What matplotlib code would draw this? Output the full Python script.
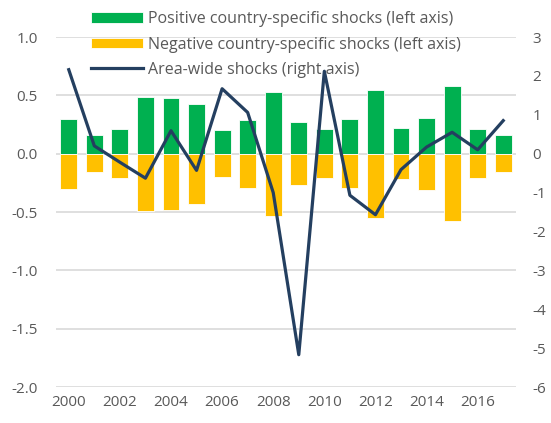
import numpy as np
import matplotlib
matplotlib.use("Agg")
import matplotlib.pyplot as plt

# ==========================================================
# DATOS
# ==========================================================

anios = list(range(2000, 2018))

positivos = [0.30, 0.16, 0.21, 0.49, 0.48, 0.43, 0.20, 0.29, 0.53, 0.27,
             0.21, 0.30, 0.55, 0.22, 0.31, 0.58, 0.21, 0.16]

negativos = [-0.30, -0.16, -0.21, -0.49, -0.48, -0.43, -0.20, -0.29, -0.53, -0.27,
             -0.21, -0.29, -0.55, -0.22, -0.31, -0.58, -0.21, -0.16]

area = [2.16, 0.20, -0.22, -0.63, 0.59, -0.43, 1.67, 1.06, -1.00, -5.17,
        2.12, -1.07, -1.57, -0.41, 0.17, 0.55, 0.10, 0.85]

etiquetas_x = [str(a) for a in range(2000, 2017, 2)]

# ==========================================================
# GRAFICA
# ==========================================================

plt.rcParams["font.family"] = ["Open Sans", "DejaVu Sans"]
plt.rcParams["axes.unicode_minus"] = False

fig = plt.figure(figsize=(5.51, 4.23), dpi=100)
ax = fig.add_axes([0.1016, 0.0851, 0.8349, 0.8274])
ax2 = ax.twinx()

x = np.arange(len(anios))

ax.bar(x, positivos, width=0.66, color="#00B050", edgecolor="white",
       linewidth=0.6, label="Positive country-specific shocks (left axis)", zorder=2)
ax.bar(x, negativos, width=0.66, color="#FFC000", edgecolor="white",
       linewidth=0.6, label="Negative country-specific shocks (left axis)", zorder=2)

ax2.plot(x, area, color="#243F60", linewidth=2.3,
         label="Area-wide shocks (right axis)", zorder=3)

ax.set_ylim(-2.0, 1.0)
ax2.set_ylim(-6, 3)
ax.set_xlim(-0.5, len(anios) - 0.5)

ax.set_yticks(np.arange(-2.0, 1.01, 0.5))
ax.set_yticklabels([f"{v:.1f}" for v in np.arange(-2.0, 1.01, 0.5)])
ax2.set_yticks(range(-6, 4))

ax.set_xticks(range(0, 17, 2))
ax.set_xticklabels(etiquetas_x)

ax.grid(axis="y", color="#D9D9D9", linewidth=1.2, zorder=0)
ax.set_axisbelow(True)

for a in (ax, ax2):
    for s in a.spines.values():
        s.set_visible(False)
    a.tick_params(length=0, labelsize=11, colors="#595959")

ax.tick_params(axis="y", pad=13)
ax.tick_params(axis="x", pad=6)
ax2.tick_params(axis="y", pad=12)

h1, l1 = ax.get_legend_handles_labels()
h2, l2 = ax2.get_legend_handles_labels()
fig.legend(h1 + h2, l1 + l2, loc="upper left", bbox_to_anchor=(0.148, 0.996),
           frameon=False, fontsize=11.5, labelcolor="#595959",
           handlelength=3.25, handleheight=0.67, labelspacing=0.58,
           handletextpad=0.3, borderaxespad=0.2)

fig.savefig("out.png", dpi=100)
